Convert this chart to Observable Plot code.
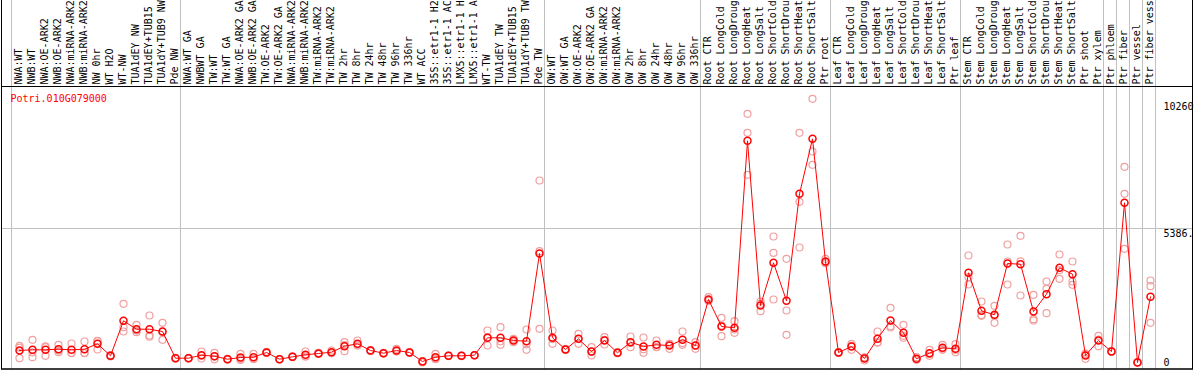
<!DOCTYPE html>
<html><head><meta charset="utf-8">
<script src="https://cdn.jsdelivr.net/npm/d3@7"></script>
<script src="https://cdn.jsdelivr.net/npm/@observablehq/plot@0.6"></script>
<style>body{margin:0;background:#fff} svg{display:block}</style>
</head><body><div id="chart"></div>
<script>
const geneId = "Potri.010G079000";
const labels = [
  "NWA:WT","NWB:WT","NWA:OE-ARK2","NWB:OE-ARK2","NWA:miRNA-ARK2","NWB:miRNA-ARK2","NW 0hr","WT H2O","WT-NW","TUA1dEY NW","TUA1dEY+TUB15","TUA1dY+TUB9 NW","Pde NW",
  "NWA:WT GA","NWBWT GA","TW:WT","TW:WT GA","NWA:OE-ARK2 GA","NWB:OE-ARK2 GA","TW:OE-ARK2","TW:OE-ARK2 GA","NWA:miRNA-ARK2","NWB:miRNA-ARK2","TW:miRNA-ARK2","TW:miRNA-ARK2","TW 2hr","TW 8hr","TW 24hr","TW 48hr","TW 96hr","TW 336hr","WT ACC","35S::etr1-1 H2","35S::etr1-1 AC","LMX5::etr1-1 H","LMX5::etr1-1 A","WT-TW","TUA1dEY TW","TUA1dEY+TUB15","TUA1dY+TUB9 TW","Pde TW",
  "OW:WT","OW:WT GA","OW:OE-ARK2","OW:OE-ARK2 GA","OW:miRNA-ARK2","OW:miRNA-ARK2","OW 2hr","OW 8hr","OW 24hr","OW 48hr","OW 96hr","OW 336hr",
  "Root CTR","Root LongCold","Root LongDroug","Root LongHeat","Root LongSalt","Root ShortCold","Root ShortDrou","Root ShortHeat","Root ShortSalt","Ptr root",
  "Leaf CTR","Leaf LongCold","Leaf LongDroug","Leaf LongHeat","Leaf LongSalt","Leaf ShortCold","Leaf ShortDrou","Leaf ShortHeat","Leaf ShortSalt","Ptr leaf",
  "Stem CTR","Stem LongCold","Stem LongDroug","Stem LongHeat","Stem LongSalt","Stem ShortCold","Stem ShortDrou","Stem ShortHeat","Stem ShortSalt","Ptr shoot",
  "Ptr xylem","Ptr phloem","Ptr fiber","Ptr vessel","Ptr fiber vess"
];
const means = [
  482,510,510,535,510,535,752,269,1676,1338,1338,1246,173,
  173,293,253,133,201,213,402,133,229,309,362,414,655,752,482,374,482,402,40,213,269,269,293,993,993,884,856,4381,
  993,522,952,442,884,390,816,643,711,683,912,683,
  2532,1447,1395,8910,2291,4007,2480,6780,8990,4059,
  402,643,161,952,1688,1194,149,374,591,551,
  3605,2078,1917,3979,3951,2050,2745,3806,3549,281,
  884,442,6418,0,2640
];
const rep1 = [
  671,912,615,711,764,844,872,293,2359,1515,1889,1596,173,
  190,442,390,133,350,350,402,140,250,442,362,482,816,884,500,374,551,420,0,350,280,280,300,1286,1419,952,1326,7315,
  1286,522,1153,615,1017,414,1045,1005,884,752,1246,816,
  2624,1796,1660,9995,2452,5064,4168,9232,10598,4168,
  420,752,80,1246,2198,1515,213,510,711,735,
  4300,2452,2279,4742,5092,2721,3255,4341,4059,149,
  1073,460,7865,0,3296
];
const rep2 = [
  173,213,269,414,374,374,522,269,1419,1218,1085,912,160,
  160,161,241,120,149,150,380,120,215,241,340,380,454,683,460,360,450,390,60,133,260,255,285,683,711,816,510,1354,
  752,500,752,281,723,380,615,390,615,551,711,551,
  2492,1057,1194,9232,2062,4409,2090,6458,8480,3991,
  380,510,200,816,1407,993,120,269,510,414,
  3428,1877,1596,3135,2693,1688,2962,3364,3255,340,
  655,430,6780,20,3066
];
const rep3 = [
  600,405,646,480,392,387,860,245,1246,1282,1040,1230,186,
  170,276,128,146,104,139,424,139,222,245,384,380,695,689,486,390,445,396,60,156,267,272,294,1010,850,884,732,4474,
  940,545,950,430,912,376,788,534,634,746,779,682,
  2480,1488,1331,7544,2359,2532,1113,4622,7946,4018,
  406,667,203,794,1459,1074,114,343,552,504,
  3135,1905,1876,4060,4068,1741,1981,3713,3123,354,
  924,436,4570,10,1596
];
const groupBreaks = [0, 13, 41, 53, 63, 73, 84, 85, 86, 87, 88];
const gridValues = [5386];
const yTickValues = [10260, 0];
const yMidTick = [5386];
const yMax = 10772;

const idx = d3.range(labels.length);
const reps = idx.flatMap(i => [rep1[i], rep2[i], rep3[i]].map(v => ({i, v})));
const mono = "DejaVu Sans Mono";

const chart = Plot.plot({
  width: 1194, height: 370,
  marginLeft: 11, marginRight: 39, marginTop: 94, marginBottom: 8,
  x: {domain: [0, labels.length], axis: null},
  y: {domain: [0, yMax], axis: null},
  style: {fontFamily: mono, fontSize: "10px", background: "white", color: "black"},
  marks: [
    Plot.ruleY(gridValues, {stroke: "#c0c0c0", insetLeft: -10, insetRight: -37}),
    Plot.ruleX(groupBreaks, {stroke: "#c0c0c0", insetTop: -94, insetBottom: -7}),
    Plot.frame({stroke: "black", insetTop: -8, insetBottom: -6.5, insetLeft: -10, insetRight: -37}),
    Plot.frame({stroke: "black", insetTop: -96, insetBottom: -6.5, insetLeft: -10, insetRight: -37}),
    Plot.text(idx, {x: d => d, text: d => labels[d], frameAnchor: "top", dx: 7.5, dy: -10, rotate: -90, textAnchor: "start", lineAnchor: "middle", fill: "black"}),
    Plot.text([geneId], {frameAnchor: "top-left", dx: -1, dy: 0, textAnchor: "start", lineAnchor: "top", fill: "red"}),
    Plot.text(yTickValues, {y: d => d, text: d => String(d), frameAnchor: "right", dx: 8, textAnchor: "start", lineAnchor: "middle", fill: "black"}),
    Plot.text(yMidTick, {y: d => d, text: d => d + ".", frameAnchor: "right", dx: 8, dy: 5, textAnchor: "start", lineAnchor: "middle", fill: "black"}),
    Plot.dot(reps, {x: "i", y: "v", dx: 8, r: 3.5, stroke: "#f0a0a0", strokeWidth: 1.2, fill: "none"}),
    Plot.line(idx, {x: d => d, y: d => means[d], dx: 8, stroke: "red", strokeWidth: 1}),
    Plot.dot(idx, {x: d => d, y: d => means[d], dx: 8, r: 3.5, stroke: "red", strokeWidth: 1.5, fill: "none"})
  ]
});
document.getElementById("chart").appendChild(chart);
</script>
</body></html>
